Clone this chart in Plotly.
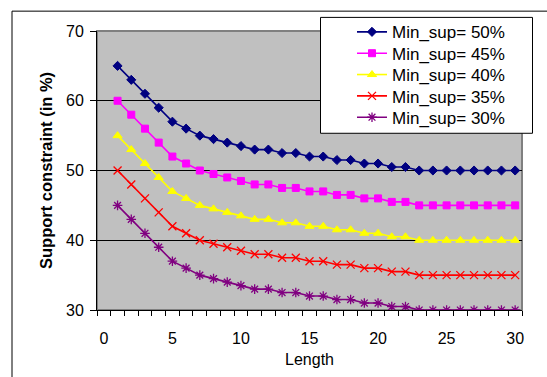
import plotly.graph_objects as go

lengths = [1, 2, 3, 4, 5, 6, 7, 8, 9, 10, 11, 12, 13, 14, 15,
           16, 17, 18, 19, 20, 21, 22, 23, 24, 25, 26, 27, 28, 29, 30]

sup50 = [65, 63, 61, 59, 57, 56, 55, 54.5, 54, 53.5, 53, 53, 52.5, 52.5, 52,
         52, 51.5, 51.5, 51, 51, 50.5, 50.5, 50, 50, 50, 50, 50, 50, 50, 50]
sup45 = [60, 58, 56, 54, 52, 51, 50, 49.5, 49, 48.5, 48, 48, 47.5, 47.5, 47,
         47, 46.5, 46.5, 46, 46, 45.5, 45.5, 45, 45, 45, 45, 45, 45, 45, 45]
sup40 = [55, 53, 51, 49, 47, 46, 45, 44.5, 44, 43.5, 43, 43, 42.5, 42.5, 42,
         42, 41.5, 41.5, 41, 41, 40.5, 40.5, 40, 40, 40, 40, 40, 40, 40, 40]
sup35 = [50, 48, 46, 44, 42, 41, 40, 39.5, 39, 38.5, 38, 38, 37.5, 37.5, 37,
         37, 36.5, 36.5, 36, 36, 35.5, 35.5, 35, 35, 35, 35, 35, 35, 35, 35]
sup30 = [45, 43, 41, 39, 37, 36, 35, 34.5, 34, 33.5, 33, 33, 32.5, 32.5, 32,
         32, 31.5, 31.5, 31, 31, 30.5, 30.5, 30, 30, 30, 30, 30, 30, 30, 30]

series_names = ["Min_sup= 50%", "Min_sup= 45%", "Min_sup= 40%",
                "Min_sup= 35%", "Min_sup= 30%"]
x_ticks = [0, 5, 10, 15, 20, 25, 30]
y_ticks = [30, 40, 50, 60, 70]

FONT = "Liberation Sans, Arial, sans-serif"
W, H = 547, 377
ML, MR, MT, MB = 97, 25, 31, 65
PW, PH = W - ML - MR, H - MT - MB


def px_x(px):
    return (px - ML) / PW


def px_y(py):
    return (H - MB - py) / PH


styles = [
    dict(color="#000080", symbol="diamond", size=7, lw=1),
    dict(color="#FF00FF", symbol="square", size=7, lw=1),
    dict(color="#FFFF00", symbol="triangle-up", size=8, lw=1),
    dict(color="#FF0000", symbol="x-thin-open", size=8, lw=1.3),
    dict(color="#800080", symbol="asterisk-open", size=8, lw=1.3),
]
data = [sup50, sup45, sup40, sup35, sup30]
legend_ids = ["legend", "legend2", "legend3", "legend4", "legend5"]

fig = go.Figure()
for vals, name, st, lid in zip(data, series_names, styles, legend_ids):
    fig.add_trace(go.Scatter(
        x=lengths, y=vals, name=name, mode="lines+markers",
        line=dict(color=st["color"], width=1.6),
        marker=dict(symbol=st["symbol"], size=st["size"], color=st["color"],
                    line=dict(color=st["color"], width=st["lw"])),
        legend=lid,
    ))

legend_centers = [32.3, 53.8, 75.3, 96.8, 118.3]
layout_legends = {}
for lid, cy in zip(legend_ids, legend_centers):
    layout_legends[lid] = dict(
        x=px_x(352), y=px_y(cy), xanchor="left", yanchor="middle",
        bgcolor="rgba(0,0,0,0)", borderwidth=0,
        font=dict(family=FONT, size=17, color="black"),
        itemclick=False, itemdoubleclick=False,
    )

fig.update_layout(
    width=W, height=H,
    margin=dict(l=ML, r=MR, t=MT, b=MB),
    paper_bgcolor="white",
    plot_bgcolor="#C0C0C0",
    showlegend=True,
    font=dict(family=FONT, size=16, color="black"),
    **layout_legends,
    shapes=[
        # outer chart border
        dict(type="rect", xref="paper", yref="paper",
             x0=px_x(12), y0=px_y(420), x1=px_x(620), y1=px_y(11),
             line=dict(color="black", width=1), fillcolor="rgba(0,0,0,0)",
             layer="below"),
        # plot area border (gray)
        dict(type="rect", xref="paper", yref="paper",
             x0=0, y0=0, x1=1, y1=1,
             line=dict(color="#808080", width=2), fillcolor="rgba(0,0,0,0)",
             layer="below"),
        # legend box
        dict(type="rect", xref="paper", yref="paper",
             x0=px_x(320.5), y0=px_y(134), x1=px_x(532.5), y1=px_y(17.3),
             line=dict(color="black", width=1), fillcolor="white",
             layer="above"),
    ],
)

fig.update_xaxes(
    range=[-0.5, 30.5], tickmode="array", tickvals=x_ticks,
    ticks="", showgrid=False, zeroline=False,
    showline=True, linecolor="black", linewidth=1,
    tickfont=dict(family=FONT, size=16, color="black"),
    ticklabelstandoff=14,
    minor=dict(tickmode="linear", tick0=0.5, dtick=1, ticks="outside",
               ticklen=5, tickcolor="black", tickwidth=1, showgrid=False),
    title=dict(text="Length", font=dict(family=FONT, size=16, color="black"),
               standoff=7),
)
fig.update_yaxes(
    range=[30, 70], tickmode="array", tickvals=y_ticks,
    ticks="outside", ticklen=6, tickcolor="black", tickwidth=1,
    showgrid=True, gridcolor="black", gridwidth=1, zeroline=False,
    showline=True, linecolor="black", linewidth=1,
    tickfont=dict(family=FONT, size=16, color="black"),
    ticklabelstandoff=3,
    title=dict(text="<b>Support constraint (in %)</b>",
               font=dict(family=FONT, size=16.5, color="black"), standoff=9),
)

fig.write_html("out.html")
